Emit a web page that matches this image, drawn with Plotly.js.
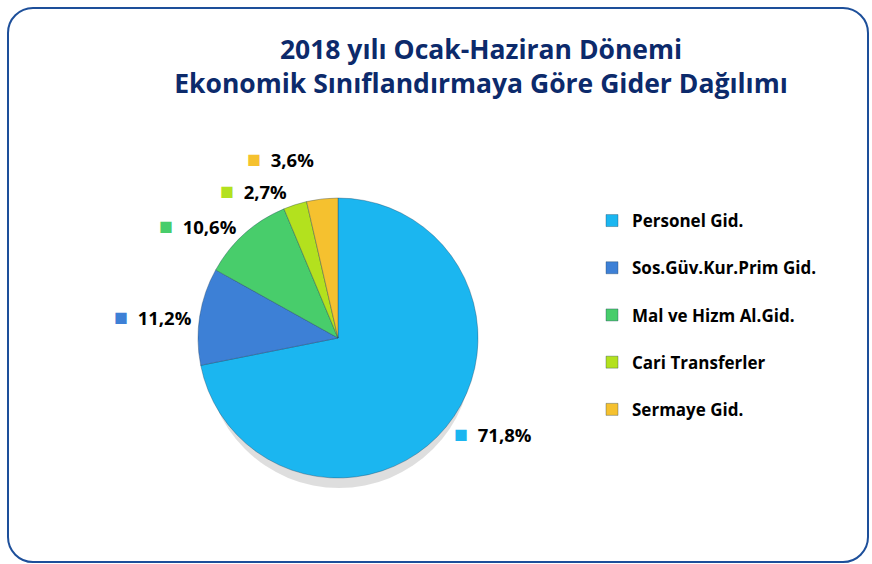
<!DOCTYPE html>
<html>
<head>
<meta charset="utf-8">
<script src="https://cdn.plot.ly/plotly-3.0.1.min.js"></script>
<style>
  html, body { margin: 0; padding: 0; background: #ffffff; }
  #frame { position: absolute; left: 7px; top: 7px; width: 862px; height: 556px;
           border: 2px solid #1d4f9a; border-radius: 26px; box-sizing: border-box; }
  #chart { position: absolute; left: 0; top: 0; width: 872px; height: 564px; }
</style>
</head>
<body>
<div id="frame"></div>
<div id="chart"></div>
<script>
// Data
const categories = ["Personel Gid.", "Sos.Güv.Kur.Prim Gid.", "Mal ve Hizm Al.Gid.", "Cari Transferler", "Sermaye Gid."];
const shares = [71.8, 11.2, 10.6, 2.7, 3.6];
const sliceColors = ["#1bb6f0", "#3d80d6", "#48cd6b", "#b3e11e", "#f5c12f"];
const titleText = "2018 yılı Ocak-Haziran Dönemi<br>Ekonomik Sınıflandırmaya Göre Gider Dağılımı";

const legendLabels = categories.map(c => c + "<br> ");
const templates = sliceColors.map(c => "<span style='color:" + c + ";font-size:23px'>■</span>  %{value:.1f}%");

const FONT = "'Open Sans', sans-serif";

const trace = {
  type: "pie",
  labels: legendLabels,
  values: shares,
  sort: false,
  direction: "clockwise",
  rotation: 0,
  marker: { colors: sliceColors, line: { color: "rgba(30,60,90,0.35)", width: 1 } },
  texttemplate: templates,
  textposition: "outside",
  textfont: { family: FONT, size: 18.5, color: "#000000", weight: "bold" },
  hoverinfo: "none",
  domain: { x: [198/872, 478/872], y: [86/564, 366/564] },
  automargin: false
};

const layout = {
  width: 872, height: 564,
  margin: { l: 0, r: 0, t: 0, b: 0 },
  paper_bgcolor: "rgba(0,0,0,0)",
  plot_bgcolor: "rgba(0,0,0,0)",
  separators: ",.",
  title: {
    text: titleText,
    font: { family: FONT, size: 26.5, color: "#0c2a6b", weight: "bold" },
    x: 481/872, xanchor: "center",
    y: 1 - 59/564, yanchor: "middle", yref: "container"
  },
  showlegend: true,
  legend: {
    x: 592/872, xanchor: "left",
    y: 1 - 203/564, yanchor: "top",
    valign: "top",
    font: { family: FONT, size: 17, color: "#000000", weight: "bold" },
    bgcolor: "rgba(0,0,0,0)"
  },
  shapes: [{
    type: "circle", xref: "paper", yref: "paper", layer: "below",
    x0: 206/872, x1: 472/872, y0: 1 - 488/564, y1: 1 - 222/564,
    fillcolor: "rgba(0,0,0,0.13)", line: { width: 0 }
  }]
};

Plotly.newPlot("chart", [trace], layout, { displayModeBar: false, staticPlot: true }).then(function () {
  document.querySelectorAll("#chart path.textline").forEach(function (p) { p.style.display = "none"; });
});
</script>
</body>
</html>
